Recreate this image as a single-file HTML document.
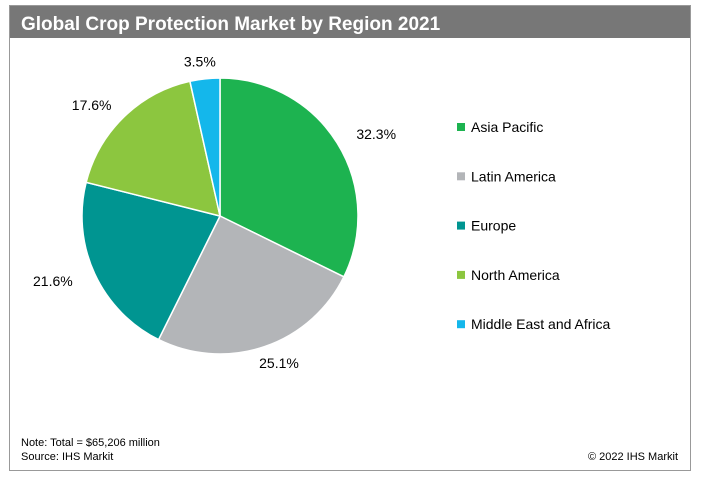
<!DOCTYPE html>
<html><head><meta charset="utf-8"><style>
body{margin:0;background:#fff;font-family:"Liberation Sans",Arial,sans-serif;}
#wrap{position:relative;width:701px;height:484px;overflow:hidden;}
</style></head><body>
<div id="wrap">
<svg width="701" height="484">
<rect x="9.5" y="5.5" width="681" height="465" fill="#fff" stroke="#999"/>
<rect x="10" y="6" width="680" height="32" fill="#777"/>
<text x="21" y="30" font-size="19" font-weight="bold" fill="#fff">Global Crop Protection Market by Region 2021</text>
<g id="pie"></g>
<g id="labels"></g>
<g id="legend"></g>
<text x="21" y="446" font-size="11" fill="#000">Note: Total = $65,206 million</text>
<text x="21" y="460" font-size="11" fill="#000">Source: IHS Markit</text>
<text x="678" y="460" font-size="11" fill="#000" text-anchor="end">© 2022 IHS Markit</text>
</svg>
</div>
<script>
const categories=["Asia Pacific","Latin America","Europe","North America","Middle East and Africa"];
const values=[32.3,25.1,21.6,17.6,3.5];
const valueLabels=["32.3%","25.1%","21.6%","17.6%","3.5%"];
const colors=["#1db350","#b3b5b8","#009591","#8cc63f","#14b7eb"];
const NS="http://www.w3.org/2000/svg";
const cx=220,cy=216,r=138,lr=160;
const total=values.reduce((a,b)=>a+b,0);
const pie=document.getElementById('pie'),labels=document.getElementById('labels'),legend=document.getElementById('legend');
function pt(a,rad){return [cx+Math.sin(a)*rad,cy-Math.cos(a)*rad];}
let acc=0;
values.forEach((v,i)=>{
  const a0=acc/total*2*Math.PI;acc+=v;const a1=acc/total*2*Math.PI;
  const p0=pt(a0,r),p1=pt(a1,r);
  const path=document.createElementNS(NS,'path');
  path.setAttribute('d',`M${cx},${cy}L${p0[0]},${p0[1]}A${r},${r} 0 ${a1-a0>Math.PI?1:0} 1 ${p1[0]},${p1[1]}Z`);
  path.setAttribute('fill',colors[i]);path.setAttribute('stroke','#fff');path.setAttribute('stroke-width','1.5');
  
  
  pie.appendChild(path);
  const am=(a0+a1)/2;
  const lx=cx+Math.sin(am)*lr*1.15, ly=cy-Math.cos(am)*lr*0.97;
  const t=document.createElementNS(NS,'text');
  t.setAttribute('x',lx);t.setAttribute('y',ly+5);t.setAttribute('text-anchor','middle');t.setAttribute('font-size','14');
  t.textContent=valueLabels[i];
  
  
  labels.appendChild(t);
  const y=127+i*49.3;
  const m=document.createElementNS(NS,'rect');
  m.setAttribute('x',457);m.setAttribute('y',y-4);m.setAttribute('width',8);m.setAttribute('height',8);m.setAttribute('fill',colors[i]);
  
  
  legend.appendChild(m);
  const lt=document.createElementNS(NS,'text');
  lt.setAttribute('x',471);lt.setAttribute('y',y+5);lt.setAttribute('font-size','14');lt.textContent=categories[i];
  
  
  legend.appendChild(lt);
});
</script>
</body></html>
